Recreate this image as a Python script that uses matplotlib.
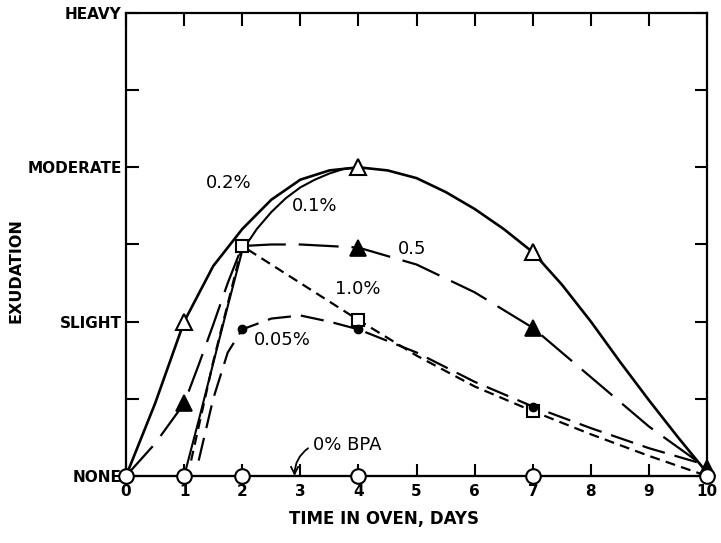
import matplotlib
matplotlib.use("Agg")
import matplotlib.pyplot as plt

# exudation levels: 0 = none, 1 = slight, 2 = moderate, 3 = heavy
level_names = ["NONE", "SLIGHT", "MODERATE", "HEAVY"]
day_ticks = [0, 1, 2, 3, 4, 5, 6, 7, 8, 9, 10]

# 0.2% BPA - curve, open triangles at the readings
c02_x = [0, 0.5, 1, 1.5, 2, 2.5, 3, 3.5, 4, 4.5, 5, 5.5, 6, 6.5, 7, 7.5, 8, 8.5, 9, 9.5, 10]
c02_y = [0, 0.47, 1.0, 1.36, 1.6, 1.79, 1.92, 1.98, 2.0, 1.98, 1.93, 1.84, 1.73, 1.6, 1.45,
         1.24, 1.0, 0.74, 0.49, 0.25, 0.02]
m02_x = [1, 4, 7]
m02_y = [1.0, 2.0, 1.45]

# 0.1% BPA - solid curve, joins the 0.2% curve near day 4
c01_x = [1, 1.25, 1.5, 1.75, 2, 2.25, 2.5, 2.75, 3, 3.25, 3.5, 3.75, 4]
c01_y = [0, 0.36, 0.73, 1.1, 1.46, 1.6, 1.71, 1.8, 1.87, 1.92, 1.96, 1.99, 2.0]

# 0.5% BPA - long dashes, filled triangles
c05_x = [0, 0.5, 1, 1.25, 1.5, 1.75, 2, 2.5, 3, 3.5, 4, 5, 6, 7, 8, 9, 10]
c05_y = [0, 0.21, 0.47, 0.72, 0.98, 1.25, 1.49, 1.5, 1.5, 1.49, 1.48, 1.37, 1.19, 0.96, 0.64,
         0.32, 0.05]
m05_x = [1, 4, 7, 10]
m05_y = [0.47, 1.48, 0.96, 0.05]

# 1.0% BPA - short dashes, open squares
c10_x = [1.12, 1.5, 2, 3, 4, 5, 6, 7, 8, 9, 10]
c10_y = [0.1, 0.74, 1.49, 1.25, 1.01, 0.78, 0.58, 0.42, 0.27, 0.13, 0.0]
m10_x = [2, 4, 7]
m10_y = [1.49, 1.01, 0.42]

# 0.05% BPA - medium dashes, small filled circles
c005_x = [1.25, 1.5, 1.75, 2, 2.5, 3, 3.5, 4, 5, 6, 7, 8, 9, 10]
c005_y = [0.1, 0.5, 0.8, 0.95, 1.02, 1.04, 1.0, 0.95, 0.8, 0.61, 0.45, 0.31, 0.18, 0.07]
m005_x = [2, 4, 7]
m005_y = [0.95, 0.95, 0.45]

# 0% BPA - no exudation at any reading
m0_x = [0, 1, 2, 4, 7, 10]
m0_y = [0, 0, 0, 0, 0, 0]


def main():
    fig = plt.figure(figsize=(7.21, 5.43), dpi=100)
    ax = fig.add_axes([0.1748, 0.1234, 0.806, 0.8527])

    # curves
    ax.plot(c02_x, c02_y, color="black", lw=1.9, solid_joinstyle="round")
    ax.plot(c01_x, c01_y, color="black", lw=1.5, solid_joinstyle="round")
    ax.plot(c05_x, c05_y, color="black", lw=1.6, linestyle=(0, (18, 5.8)))
    ax.plot(c10_x, c10_y, color="black", lw=1.6, linestyle=(0, (4.5, 2.8)))
    ax.plot(c005_x, c005_y, color="black", lw=1.6, linestyle=(0, (10.5, 4.5)))
    ax.plot(m0_x, m0_y, color="black", lw=1.5, clip_on=False)

    # markers
    ax.plot(m02_x, m02_y, "^", ms=11, mfc="white", mec="black", mew=1.5, ls="none", clip_on=False)
    ax.plot(m05_x, m05_y, "^", ms=11, mfc="black", mec="black", mew=1.2, ls="none", clip_on=False)
    ax.plot(m10_x, m10_y, "s", ms=8.5, mfc="white", mec="black", mew=1.5, ls="none", clip_on=False)
    ax.plot(m005_x, m005_y, "o", ms=6, mfc="black", mec="black", ls="none", clip_on=False)
    ax.plot(m0_x, m0_y, "o", ms=10.5, mfc="white", mec="black", mew=1.5, ls="none",
            clip_on=False, zorder=5)

    # curve labels
    lab = dict(fontsize=13, family="DejaVu Sans", ha="center", va="center")
    ax.text(1.77, 1.9, "0.2%", **lab)
    ax.text(3.24, 1.75, "0.1%", **lab)
    ax.text(4.92, 1.47, "0.5", **lab)
    ax.text(3.99, 1.21, "1.0%", **lab)
    ax.text(2.69, 0.88, "0.05%", **lab)
    ax.annotate("0% BPA", xy=(2.9, 0.0), xytext=(3.22, 0.2), fontsize=13,
                ha="left", va="center",
                arrowprops=dict(arrowstyle="->", lw=1.3, color="black",
                                relpos=(0, 0.5),
                                connectionstyle="arc3,rad=0.3", shrinkA=2, shrinkB=0))

    ax.set_xlim(0, 10)
    ax.set_ylim(0, 3)
    ax.set_xticks(day_ticks)
    ax.set_xticklabels([str(d) for d in day_ticks], fontsize=11, fontweight="bold")
    ax.set_yticks(range(len(level_names)))
    ax.set_yticklabels(level_names, fontsize=11, fontweight="bold")
    ax.set_yticks([0.5, 1.5, 2.5], minor=True)

    ax.tick_params(which="both", direction="in", top=True, right=True, width=1.5)
    ax.tick_params(which="major", length=9)
    ax.tick_params(which="minor", length=9)
    ax.tick_params(axis="x", pad=6)
    ax.tick_params(axis="y", pad=3)
    for sp in ax.spines.values():
        sp.set_linewidth(1.6)

    ax.set_xlabel("TIME IN OVEN, DAYS", fontsize=12, fontweight="bold")
    ax.set_ylabel("EXUDATION", fontsize=11.5, fontweight="bold")
    ax.xaxis.set_label_coords(0.444, -0.074)
    ax.yaxis.set_label_coords(-0.176, 0.443)

    fig.savefig("out.png", dpi=100)


if __name__ == "__main__":
    main()
